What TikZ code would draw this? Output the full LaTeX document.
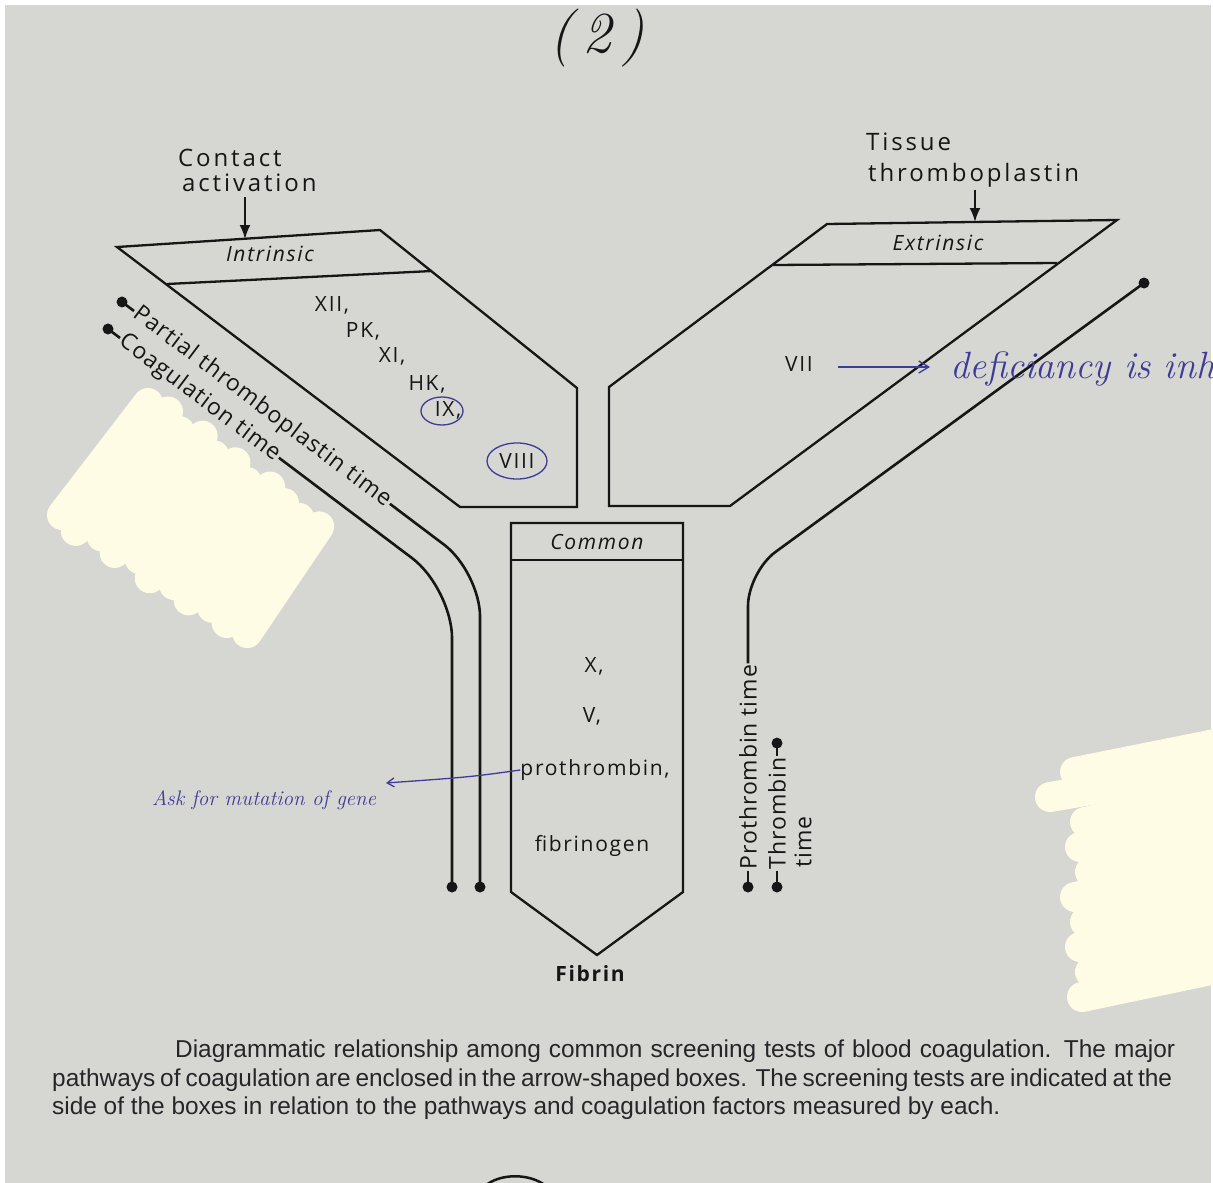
\documentclass[tikz,border=0pt]{standalone}
\usepackage{fontspec}
\usetikzlibrary{arrows.meta,calc}
\newfontfamily\labfont[LetterSpace=8]{Open Sans}
\newfontfamily\wlabfont[LetterSpace=12]{Open Sans}
\newfontfamily\tlabfont[LetterSpace=4]{Open Sans}
\newfontfamily\capfont{Liberation Sans}
\definecolor{paper}{RGB}{214,214,210}
\definecolor{ink}{RGB}{22,22,22}
\definecolor{capink}{RGB}{38,38,40}
\definecolor{pen}{RGB}{62,60,150}
\definecolor{blobc}{RGB}{255,252,230}
\begin{document}
\begin{tikzpicture}[x=1pt,y=-1pt,
  lbl/.style={font=\labfont\fontsize{21}{25}\selectfont, text=ink, inner sep=0pt},
  toplbl/.style={font=\wlabfont\fontsize{24}{28}\selectfont, text=ink, inner sep=0pt, anchor=west},
  testlbl/.style={font=\tlabfont\fontsize{23}{27}\selectfont, text=ink, inner sep=1.5pt},
  caplbl/.style={font=\capfont\fontsize{24.4}{29}\selectfont, text=capink, inner sep=0pt, anchor=base west},
  box/.style={draw=ink, line width=2.3pt, line join=miter},
  testline/.style={draw=ink, line width=2.6pt},
  enddot/.style={circle, fill=ink, inner sep=0pt, minimum size=11pt},
  inarrow/.style={draw=ink, line width=2pt, -{Latex[length=14pt,width=11pt]}},
  penmark/.style={draw=pen, line width=1.3pt},
  hand/.style={text=pen, font=\rmfamily\itshape\fontsize{38}{42}\selectfont, inner sep=0pt},
  blobstroke/.style={draw=blobc, line width=30pt, line cap=round}]

% page
\useasboundingbox (0,0) rectangle (1213,1183);
\fill[white] (0,0) rectangle (1213,1183);
\fill[paper] (5,5) rectangle (1211,1183);

% page number
\node[font=\rmfamily\itshape\fontsize{58}{62}\selectfont, text=ink] (pagenum) at (597,38) {(\,2\,)};

% ---------- Intrinsic box ----------
\draw[box] (117,247) -- (380,230) -- (577,388) -- (577,507) -- (460,507) -- cycle;
\draw[box] (167,284) -- (432,271);
\node[lbl, font=\labfont\itshape\fontsize{21}{25}\selectfont] (intr) at (270,254) {Intrinsic};
\node[toplbl] (contact1) at (178,158) {Contact};
\node[toplbl] (contact2) at (182,183) {activation};
\coordinate (cin1) at (245,197);
\coordinate (cin2) at (245,239);
\draw[inarrow] (cin1) -- (cin2);

\node[lbl] (f12) at (332,305) {XII,};
\node[lbl] (fpk) at (363,331) {PK,};
\node[lbl] (f11) at (392,356) {XI,};
\node[lbl] (fhk) at (427,384) {HK,};
\node[lbl] (f9) at (448,410) {IX,};
\node[lbl] (f8) at (517,461) {VIII};
\draw[penmark] (442,411) ellipse [x radius=21, y radius=14];
\draw[penmark] (517,461) ellipse [x radius=30, y radius=18];

% ---------- Extrinsic box ----------
\draw[box] (827,224) -- (1117,220) -- (730,506) -- (609,506) -- (609,387) -- cycle;
\draw[box] (773,265) -- (1057,263);
\node[lbl, font=\labfont\itshape\fontsize{21}{25}\selectfont] (extr) at (938,243) {Extrinsic};
\node[toplbl] (tissue1) at (866,142) {Tissue};
\node[toplbl] (tissue2) at (868,175) {thromboplastin};
\coordinate (tin1) at (975,190);
\coordinate (tin2) at (975,222);
\draw[inarrow] (tin1) -- (tin2);
\node[lbl] (f7) at (799,364) {VII};

% ---------- Common box ----------
\draw[box] (511,523) -- (683,523) -- (683,892) -- (597,955) -- (511,892) -- cycle;
\draw[box] (511,560) -- (683,560);
\node[lbl, font=\labfont\itshape\fontsize{21}{25}\selectfont] (comm) at (597,542) {Common};
\node[lbl] (fx) at (594,666) {X,};
\node[lbl] (fv) at (592,716) {V,};
\node[lbl] (fpro) at (595,770) {prothrombin,};
\node[lbl] (ffib) at (592,846) {fibrinogen};
\node[lbl, font=\labfont\bfseries\fontsize{21}{25}\selectfont] (fibrin) at (590,974) {Fibrin};

% ---------- Partial thromboplastin time ----------
\node[testlbl, rotate=-37, anchor=west] (ptt) at (134,311) {Partial thromboplastin time};
\node[enddot] (pttdot) at ($(ptt.west)+(217:15)$) {};
\draw[testline] (pttdot.center) -- (ptt.west);
\coordinate (ptta) at ($(ptt.east)+(37:100)$);
\coordinate (pttv1) at (480,0);
\coordinate (pttv2) at (480,900);
\coordinate (pttc) at (intersection of ptt.east--ptta and pttv1--pttv2);
\node[enddot] (pttend) at (480,887) {};
\draw[testline, rounded corners=45pt] (ptt.east) -- (pttc) -- (pttend.center);

% ---------- Coagulation time ----------
\node[testlbl, rotate=-37, anchor=west] (ct) at (120,338) {Coagulation time};
\node[enddot] (ctdot) at ($(ct.west)+(217:15)$) {};
\draw[testline] (ctdot.center) -- (ct.west);
\coordinate (cta) at ($(ct.east)+(37:100)$);
\coordinate (ctv1) at (452,0);
\coordinate (ctv2) at (452,900);
\coordinate (ctc) at (intersection of ct.east--cta and ctv1--ctv2);
\node[enddot] (ctend) at (452,887) {};
\draw[testline, rounded corners=50pt] (ct.east) -- (ctc) -- (ctend.center);

% ---------- Prothrombin time ----------
\node[testlbl, rotate=90, anchor=west] (pt) at (748,871) {Prothrombin time};
\node[enddot] (ptdot) at ($(pt.west)+(0,16)$) {};
\draw[testline] (ptdot.center) -- (pt.west);
\node[enddot] (ptend) at (1144,283) {};
\coordinate (ptcy) at (0,572);
\draw[testline, rounded corners=34pt] (pt.east) -- (pt.east |- ptcy) -- (ptend.center);

% ---------- Thrombin time ----------
\node[testlbl, rotate=90, anchor=west] (tt) at (777,871) {Thrombin};
\node[testlbl, rotate=90, anchor=west] (tt2) at (803,869) {time};
\node[enddot] (ttdot1) at ($(tt.west)+(0,16)$) {};
\node[enddot] (ttdot2) at ($(tt.east)+(0,-13)$) {};
\draw[testline] (ttdot1.center) -- (tt.west);
\draw[testline] (ttdot2.center) -- (tt.east);

% ---------- handwritten notes ----------
\coordinate (viia) at (838,367);
\coordinate (viib) at (930,367);
\draw[penmark, -{Straight Barb[length=10pt,width=12pt]}] (viia) -- (viib);
\node[hand, anchor=base west] (defic) at (950,378) {deficiancy is inh};
\coordinate (askend) at (386,783);
\draw[penmark, -{Straight Barb[length=7pt,width=9pt]}] (fpro.west) .. controls (470,777) .. (askend);
\node[hand, font=\rmfamily\itshape\fontsize{21}{24}\selectfont, anchor=west] (ask) at (152,800) {Ask for mutation of gene};

% ---------- caption ----------
\node[caplbl] (cap1) at (175,1057) {\makebox[1000pt][s]{Diagrammatic relationship among common screening tests of blood coagulation. The major}};
\node[caplbl] (cap2) at (52,1086) {\makebox[1120pt][s]{pathways of coagulation are enclosed in the arrow-shaped boxes. The screening tests are indicated at the}};
\node[caplbl] (cap3) at (52,1114) {side of the boxes in relation to the pathways and coagulation factors measured by each.};

% bottom arc (next page number, cut off)
\draw[ink, line width=2.5pt] (485,1186) .. controls (500,1173) and (530,1173) .. (546,1186);

% ---------- cover-up blobs ----------
\foreach \i/\a/\b in {0/0/0,1/-6/5,2/4/-4,3/-3/6,4/6/-3,5/-5/4,6/3/-5,7/-2/5,8/5/0,9/0/-3,10/3/2} {
  \draw[blobstroke] ({62+18.3*\i+\a*0.75},{515+12*\i-\a*0.65}) -- ({148+17*\i+\b*0.6},{403+12.5*\i-\b*0.8});
}
\foreach \i/\lx in {0/1075,1/1050,2/1085,3/1080,4/1090,5/1075,6/1085,7/1080,8/1090,9/1082} {
  \draw[blobstroke] ({\lx},{772+25*\i}) -- (1225,{742+25*\i});
}
\end{tikzpicture}
\end{document}
